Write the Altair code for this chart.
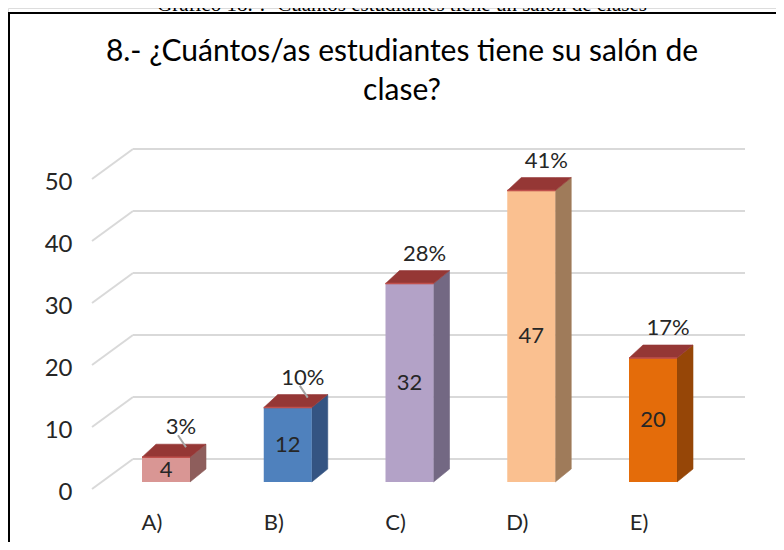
import altair as alt
import pandas as pd

# ---------------- data ----------------
categories = ["A)", "B)", "C)", "D)", "E)"]
counts = [4, 12, 32, 47, 20]
pct_labels = ["3%", "10%", "28%", "41%", "17%"]
leader_line = [True, True, False, False, False]
y_ticks = [0, 10, 20, 30, 40, 50]

front_colors = ["#D99694", "#4F81BD", "#B3A2C7", "#FAC090", "#E46C0A"]
side_colors = ["#8E5E5C", "#345482", "#736883", "#9F7B5A", "#964607"]
top_color = "#953735"
grid_color = "#D9D9D9"
text_color = "#262626"

title_lines = ["8.- ¿Cuántos/as estudiantes tiene su salón de", "clase?"]
caption = "Gráfico 18.-.- Cuántos estudiantes tiene un salón de clases"

# ---------------- layout constants (pixels) ----------------
W, H = 768, 534
PX_X = 121.75      # pixels per category step
PX_Y = 6.2         # pixels per unit of count
X0 = 158           # view x of first category
Y0 = 481           # view y of count 0 on the front edge


def ux(p):
    return p / PX_X


def uy(p):
    return p / PX_Y


BASE = uy(7)       # bars sit a little behind the front edge
BACK = uy(30)      # back wall depth (vertical shift)
HALF = ux(24)      # half width of bar front face
DXR = ux(16)       # depth shift, right edge
DXL = ux(14)       # depth shift, left edge
DY = uy(13)        # depth shift, vertical
WALL_FRONT_X = ux(84 - X0)
WALL_BACK_X = ux(125 - X0)
WALL_END_X = ux(737 - X0)

xscale = alt.Scale(domain=[-X0 / PX_X, (W - X0) / PX_X], nice=False, zero=False)
yscale = alt.Scale(domain=[-(H - Y0) / PX_Y, Y0 / PX_Y], nice=False, zero=False)
yaxis = alt.Axis(values=y_ticks, title=None, grid=False, domain=False, ticks=False,
                 tickSize=0, labelPadding=0, offset=-64, labelFontSize=24,
                 labelAlign="right", labelBaseline="middle", labelOffset=3,
                 labelFont="Lato", labelColor=text_color, labelFontWeight="normal")


def X(f):
    return alt.X(f, type="quantitative", scale=xscale, axis=None)


def X2(f):
    return alt.X2(f)


def Y(f):
    return alt.Y(f, type="quantitative", scale=yscale, axis=yaxis)


# ---------------- tables ----------------
bars = pd.DataFrame({
    "cat": categories,
    "i": list(range(len(categories))),
    "n": counts,
    "pct": pct_labels,
    "front": front_colors,
    "side": side_colors,
    "leader": leader_line,
})
bars["xl"] = bars["i"] - HALF
bars["xr"] = bars["i"] + HALF
bars["yb"] = BASE
bars["yt"] = BASE + bars["n"]
bars["ymid"] = BASE + bars["n"] / 2
bars["px"] = bars["i"] + ux(15)
bars["py"] = bars["yt"] + DY + uy(17)
bars["lx1"] = bars["i"] + ux(12)
bars["ly1"] = bars["yt"] + DY + uy(9)
bars["lx2"] = bars["i"] + ux(20)
bars["ly2"] = bars["yt"] + DY - uy(3)
bars["cx"] = bars["i"] - ux(14)
bars["cy"] = -uy(34)

side_rows, top_rows = [], []
for r in bars.to_dict("records"):
    side_rows.append({"cat": r["cat"], "fill": r["side"], "x": r["xr"], "y": r["yb"], "y2": r["yt"]})
    side_rows.append({"cat": r["cat"], "fill": r["side"], "x": r["xr"] + DXR,
                      "y": r["yb"] + DY, "y2": r["yt"] + DY})
    top_rows.append({"cat": r["cat"], "x": r["xl"], "y": r["yt"], "y2": r["yt"]})
    top_rows.append({"cat": r["cat"], "x": r["xl"] + DXL, "y": r["yt"], "y2": r["yt"] + DY})
    top_rows.append({"cat": r["cat"], "x": r["xr"], "y": r["yt"], "y2": r["yt"] + DY})
    top_rows.append({"cat": r["cat"], "x": r["xr"] + DXR, "y": r["yt"] + DY, "y2": r["yt"] + DY})
side = pd.DataFrame(side_rows)
top = pd.DataFrame(top_rows)

grid = pd.DataFrame({"v": y_ticks})
grid["xf"] = WALL_FRONT_X
grid["xb"] = WALL_BACK_X
grid["xe"] = WALL_END_X
grid["yb"] = grid["v"] + BACK

# ---------------- layers ----------------
back_grid = alt.Chart(grid).mark_rule(color=grid_color, strokeWidth=2).encode(
    x=X("xb"), x2=X2("xe"), y=Y("yb"))
diag = alt.Chart(grid).mark_rule(color=grid_color, strokeWidth=2).encode(
    x=X("xf"), x2=X2("xb"), y=Y("v"), y2=alt.Y2("yb"))

side_faces = alt.Chart(side).mark_area(orient="vertical", strokeWidth=0.6).encode(
    x=X("x"), y=Y("y"), y2=alt.Y2("y2"), detail="cat:N",
    color=alt.Color("fill:N", scale=None), stroke=alt.Stroke("fill:N", scale=None))

front_faces = alt.Chart(bars).mark_rect().encode(
    x=X("xl"), x2=X2("xr"), y=Y("yb"), y2=alt.Y2("yt"),
    color=alt.Color("front:N", scale=None))

top_faces = alt.Chart(top).mark_area(orient="vertical", color=top_color,
                                     stroke=top_color, strokeWidth=0.6).encode(
    x=X("x"), y=Y("y"), y2=alt.Y2("y2"), detail="cat:N")

top_edge = alt.Chart(bars).mark_rule(color="#C0504D", strokeWidth=1.5).encode(
    x=X("xl"), x2=X2("xr"), y=Y("yt"))

value_labels = alt.Chart(bars).mark_text(font="Lato", fontSize=22, color=text_color,
                                         baseline="middle").encode(
    x=X("i"), y=Y("ymid"), text="n:Q")

leaders = alt.Chart(bars).transform_filter("datum.leader").mark_rule(
    color="#A6A6A6", strokeWidth=2).encode(
    x=X("lx1"), x2=X2("lx2"), y=Y("ly1"), y2=alt.Y2("ly2"))

pct_text = alt.Chart(bars).mark_text(font="Lato", fontSize=22, color=text_color,
                                     baseline="middle").encode(
    x=X("px"), y=Y("py"), text="pct:N")

cat_text = alt.Chart(bars).mark_text(font="Lato", fontSize=22, color=text_color,
                                     baseline="middle").encode(
    x=X("cx"), y=Y("cy"), text="cat:N")

title_df = pd.DataFrame({"t": title_lines, "row": [0, 1]})
title_marks = alt.Chart(title_df).transform_filter("datum.row == 0").mark_text(
    font="Lato", fontSize=30, color="#000000", baseline="middle").encode(
    x=alt.value(394), y=alt.value(44), text="t:N")
title_marks2 = alt.Chart(title_df).transform_filter("datum.row == 1").mark_text(
    font="Lato", fontSize=30, color="#000000", baseline="middle").encode(
    x=alt.value(394), y=alt.value(83), text="t:N")

cap_df = pd.DataFrame({"t": [caption]})
caption_mark = alt.Chart(cap_df).mark_text(font="Liberation Serif", fontSize=21,
                                           color="#000000", baseline="alphabetic").encode(
    x=alt.value(394), y=alt.value(2.5), text="t:N")

border_left = alt.Chart(cap_df).mark_rule(color="#000000", strokeWidth=2).encode(
    x=alt.value(1), y=alt.value(4), y2=alt.value(H))
border_top = alt.Chart(cap_df).mark_rule(color="#000000", strokeWidth=2).encode(
    x=alt.value(0), x2=alt.value(W), y=alt.value(5))

chart = alt.layer(
    back_grid, diag, side_faces, front_faces, top_faces, top_edge, value_labels,
    leaders, pct_text, cat_text, title_marks, title_marks2, caption_mark,
    border_left, border_top
).properties(
    width=W, height=H, autosize=alt.AutoSizeParams(type="none"),
    padding={"left": 0, "right": 0, "top": 0, "bottom": 0}
).configure_view(stroke=None).configure(background="#FFFFFF")

chart.save("out.html", embed_options={"renderer": "svg", "actions": False})
